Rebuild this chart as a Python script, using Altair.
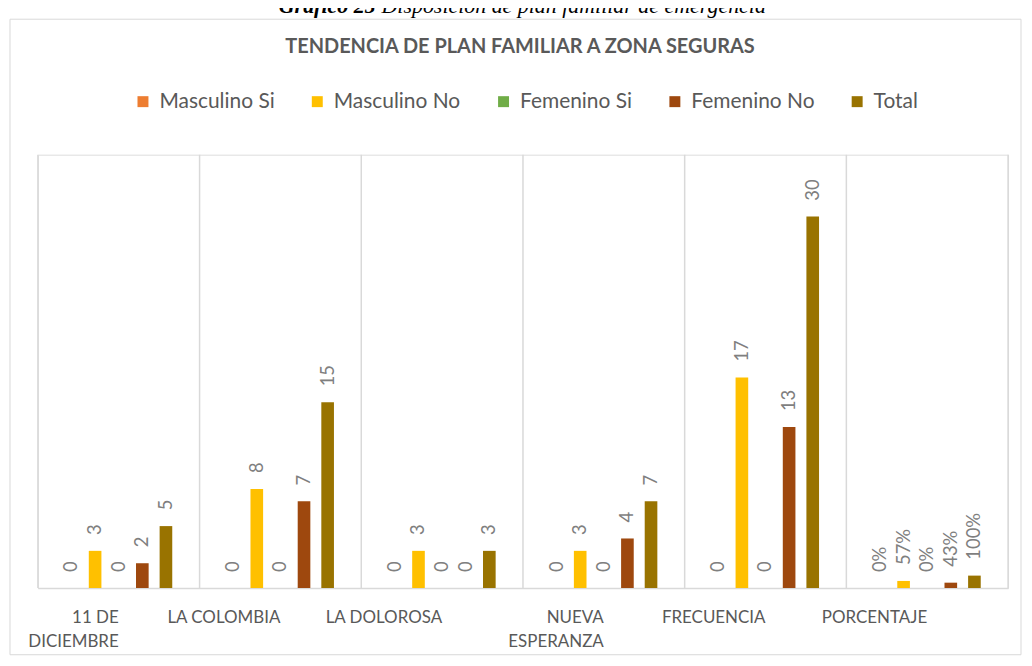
import altair as alt
import pandas as pd

categories = ["11 DE DICIEMBRE", "LA COLOMBIA", "LA DOLOROSA", "NUEVA ESPERANZA", "FRECUENCIA", "PORCENTAJE"]
series = ["Masculino Si", "Masculino No", "Femenino Si", "Femenino No", "Total"]
masculino_si = [0, 0, 0, 0, 0, 0]
masculino_no = [3, 8, 3, 3, 17, 0.57]
femenino_si = [0, 0, 0, 0, 0, 0]
femenino_no = [2, 7, 0, 4, 13, 0.43]
total = [5, 15, 3, 7, 30, 1.00]
colors = ["#ED7D31", "#FFC000", "#70AD47", "#9E480E", "#997300"]

title_text = "TENDENCIA DE PLAN FAMILIAR A ZONA SEGURAS"
caption_bold = "Gráfico 25"
caption_rest = "Disposición de plan familiar de emergencia"

rows = []
for s, vals in zip(series, [masculino_si, masculino_no, femenino_si, femenino_no, total]):
    for c, v in zip(categories, vals):
        lab = f"{round(v * 100)}%" if c == "PORCENTAJE" else f"{v:g}"
        rows.append({"categoria": c, "serie": s, "valor": v, "etiqueta": lab})
df = pd.DataFrame(rows)
cat_df = pd.DataFrame({"categoria": categories})
one = pd.DataFrame({"k": [0]})

W, H = 974, 435
GRID = "#D9D9D9"

x_enc = alt.X(
    "categoria:N",
    sort=categories,
    scale=alt.Scale(paddingInner=0, paddingOuter=0),
    axis=alt.Axis(
        title=None, labelAngle=0, grid=False, ticks=False,
        domainColor=GRID, domainWidth=1.5,
        labelColor="#595959", labelFont="Lato", labelFontSize=17,
        labelPadding=22, labelLineHeight=24, labelBaseline="top",
        labelExpr="length(datum.value) > 12 ? [slice(datum.value, 0, lastindexof(datum.value, ' ')), slice(datum.value, lastindexof(datum.value, ' ') + 1)] : datum.value",
    ),
)
xoff = alt.XOffset("serie:N", sort=series,
                   scale=alt.Scale(range=[27.4, 134.9], paddingInner=0.465, paddingOuter=0))
y_enc = alt.Y("valor:Q", scale=alt.Scale(domain=[0, 35], nice=False), axis=None)

base = alt.Chart(df)

bars = base.mark_bar().encode(
    x=x_enc,
    xOffset=xoff,
    y=y_enc,
    color=alt.Color(
        "serie:N", sort=series,
        scale=alt.Scale(domain=series, range=colors),
        legend=alt.Legend(
            orient="none", legendX=95, legendY=-64, direction="horizontal",
            title=None, symbolType="square", symbolSize=121, symbolStrokeWidth=0,
            labelFont="Lato", labelFontSize=21, labelColor="#595959",
            columnPadding=32, labelOffset=6, padding=0,
        ),
    ),
)

labels = base.mark_text(
    angle=270, align="left", baseline="middle", dx=16,
    font="Lato", fontSize=18.5, color="#7F7F7F",
).encode(x=x_enc, xOffset=xoff, y=y_enc, text="etiqueta:N")

grid = alt.Chart(cat_df).mark_rule(color=GRID, strokeWidth=1.5).encode(
    x=alt.X("categoria:N", sort=categories, bandPosition=0)
)
grid_end = alt.Chart(one).mark_rule(color=GRID, strokeWidth=1.5).encode(x=alt.value(W))

frame = alt.Chart(one).mark_rect(fill=None, stroke=GRID, strokeWidth=1).encode(
    x=alt.value(-28), x2=alt.value(987), y=alt.value(-136), y2=alt.value(502)
)

title = alt.Chart(one).mark_text(
    text=title_text, align="center", baseline="middle",
    font="Lato", fontSize=20, fontWeight="bold", color="#595959",
).encode(x=alt.value(484), y=alt.value(-108))

cap1 = alt.Chart(one).mark_text(
    text=caption_bold, align="right", baseline="alphabetic",
    font="Liberation Serif", fontSize=22, fontStyle="italic", fontWeight="bold", color="#000000",
).encode(x=alt.value(339), y=alt.value(-142))
cap2 = alt.Chart(one).mark_text(
    text=caption_rest, align="left", baseline="alphabetic",
    font="Liberation Serif", fontSize=22, fontStyle="italic", color="#000000",
).encode(x=alt.value(345), y=alt.value(-142))

chart = alt.layer(frame, grid, grid_end, bars, labels, title, cap1, cap2).properties(
    width=W, height=H,
    autosize=alt.AutoSizeParams(type="none"),
    padding={"left": 30, "top": 146, "right": 16, "bottom": 68},
).configure_view(stroke=None).configure(background="#FFFFFF")

chart.save("out.html", embed_options={"renderer": "svg", "actions": False})
